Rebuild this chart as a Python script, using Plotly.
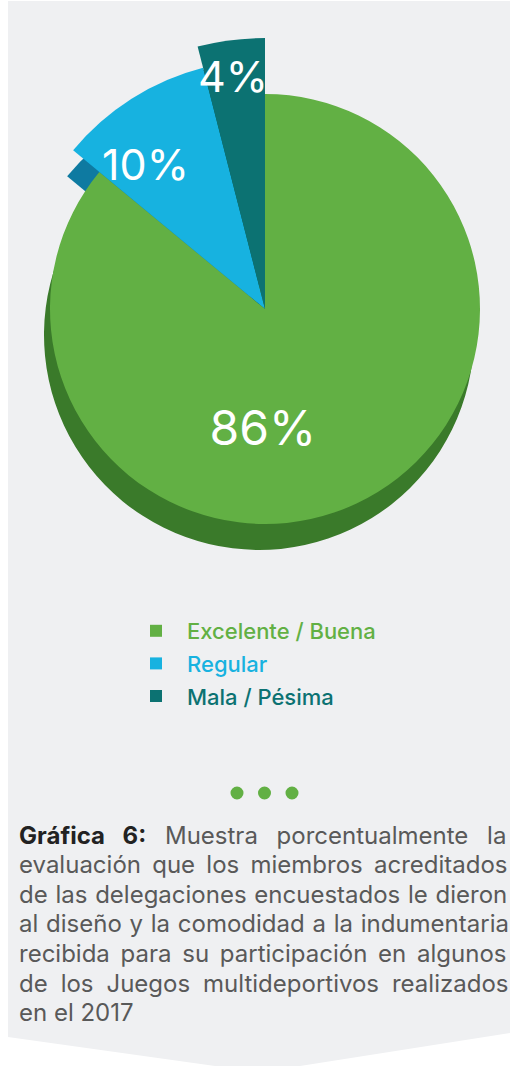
import math
import plotly.graph_objects as go

# Datos
categorias = ["Excelente / Buena", "Regular", "Mala / Pésima"]
porcentajes = [86, 10, 4]
etiquetas = ["86%", "10%", "4%"]

# Colores
COLOR_CARA = ["#62b044", "#17b2e0", "#0c7272"]
COLOR_LADO = ["#3a7a2a", "#0e7aa1", "#075757"]
COLOR_PANEL = "#eff0f2"

# Estilo de cada porción (radio en px y posición de la etiqueta)
RADIO = [215, 249, 271]
POS_ETIQUETA = [(124, 181), (184, 319.5), (230, 352)]
TAM_ETIQUETA = [48, 43, 43]

W, H = 510, 1066
CX, CY = 265, 309
R_DOM = 245      # polar de círculo completo (porción grande)
R_SECT = 280     # polar de sector (porciones que sobresalen)
SECTOR = [90, 141]
SOMBRA = (-6, 26)

CAPTION = [
    ("<b><span style='color:#222222'>Gráfica 6:</span></b> Muestra porcentualmente la", 12.0),
    ("evaluación que los miembros acreditados", 4.5),
    ("de las delegaciones encuestados le dieron", 1.0),
    ("al diseño y la comodidad a la indumentaria", 1.0),
    ("recibida para su participación en algunos", 4.0),
    ("de los Juegos multideportivos realizados", 6.2),
    ("en el 2017", 0),
]


def px_x(x):
    return x / W


def px_y(y):
    return 1 - y / H


def dominio_completo(cx, cy):
    return dict(x=[px_x(cx - R_DOM), px_x(cx + R_DOM)], y=[px_y(cy + R_DOM), px_y(cy - R_DOM)])


def dominio_sector(cx, cy):
    izq = R_SECT * math.cos(math.radians(SECTOR[1]))
    return dict(x=[px_x(cx + izq), px_x(cx)], y=[px_y(cy), px_y(cy - R_SECT)])


# angulos de cada porción a partir de los porcentajes
anchos = [p * 3.6 for p in porcentajes]
centros = []
acum = 0
for a in anchos:
    centros.append(acum + a / 2)
    acum += a

# polar: lado verde, polar2: lado azul/teal, polar3: cara verde, polar4: cara azul/teal
SUBPLOT = {
    ("lado", 0): "polar", ("lado", 1): "polar2", ("lado", 2): "polar2",
    ("cara", 0): "polar3", ("cara", 1): "polar4", ("cara", 2): "polar4",
}

fig = go.Figure()

for capa, colores in (("lado", COLOR_LADO), ("cara", COLOR_CARA)):
    for i, cat in enumerate(categorias):
        fig.add_trace(
            go.Barpolar(
                r=[RADIO[i]],
                theta=[centros[i]],
                width=[anchos[i]],
                marker=dict(color=colores[i], line=dict(width=0)),
                name=f"<span style='color:{COLOR_CARA[i]}'>{cat}</span>",
                legendgroup=cat,
                showlegend=(capa == "cara"),
                subplot=SUBPLOT[(capa, i)],
                hoverinfo="skip",
            )
        )

# etiquetas de porcentaje
for i, txt in enumerate(etiquetas):
    fig.add_trace(
        go.Scatterpolar(
            r=[POS_ETIQUETA[i][0]],
            theta=[POS_ETIQUETA[i][1]],
            text=[txt],
            mode="text",
            textfont=dict(family="Inter", size=TAM_ETIQUETA[i], color="white"),
            cliponaxis=False,
            showlegend=False,
            subplot=SUBPLOT[("cara", i)],
            hoverinfo="skip",
        )
    )


def polar_cfg(dom, rmax, sector=None):
    cfg = dict(
        domain=dom,
        bgcolor="rgba(0,0,0,0)",
        bargap=0,
        radialaxis=dict(visible=False, range=[0, rmax]),
        angularaxis=dict(visible=False, rotation=90, direction="clockwise"),
    )
    if sector:
        cfg["sector"] = sector
    return cfg


shapes = [
    dict(
        type="path", xref="paper", yref="paper", layer="below",
        path=(f"M {px_x(8)},{px_y(1)} L {px_x(510)},{px_y(1)} L {px_x(510)},{px_y(1033)} "
              f"L {px_x(300)},{px_y(1066)} L {px_x(215)},{px_y(1066)} L {px_x(8)},{px_y(1037)} Z"),
        fillcolor=COLOR_PANEL, line=dict(width=0),
    )
]
for x in (237, 264.5, 292):
    shapes.append(dict(
        type="circle", xref="paper", yref="paper",
        x0=px_x(x - 6.5), x1=px_x(x + 6.5), y0=px_y(793 + 6.5), y1=px_y(793 - 6.5),
        fillcolor="#62b044", line=dict(width=0),
    ))

annotations = []
for k, (linea, esp) in enumerate(CAPTION):
    texto = f"<span style='word-spacing:{esp}px'>{linea}</span>" if esp else linea
    annotations.append(dict(
        text=texto, x=px_x(17), y=px_y(835 + 29.6 * k), xref="paper", yref="paper",
        xanchor="left", yanchor="middle", showarrow=False,
        font=dict(family="Inter", size=24, color="#595959"),
    ))

sx, sy = CX + SOMBRA[0], CY + SOMBRA[1]
fig.update_layout(
    width=W, height=H,
    margin=dict(l=0, r=0, t=0, b=0),
    paper_bgcolor="white",
    plot_bgcolor="white",
    polar=polar_cfg(dominio_completo(sx, sy), R_DOM),
    polar2=polar_cfg(dominio_sector(sx, sy), R_SECT, SECTOR),
    polar3=polar_cfg(dominio_completo(CX, CY), R_DOM),
    polar4=polar_cfg(dominio_sector(CX, CY), R_SECT, SECTOR),
    showlegend=True,
    legend=dict(
        x=px_x(125), y=px_y(610), xanchor="left", yanchor="top",
        bgcolor="rgba(0,0,0,0)", itemwidth=52, traceorder="grouped", tracegroupgap=1,
        font=dict(family="Inter", size=22, weight=500),
        itemclick=False, itemdoubleclick=False,
    ),
    shapes=shapes,
    annotations=annotations,
)

fig.write_html(
    "out.html",
    config={"displayModeBar": False},
    post_script="document.body.style.margin='0';document.body.style.overflow='hidden';",
)
